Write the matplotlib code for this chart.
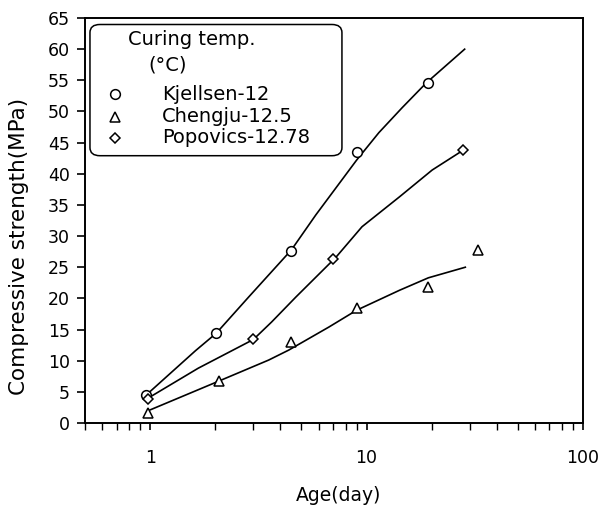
import matplotlib.pyplot as plt
from matplotlib.patches import FancyBboxPatch

plt.rcParams['font.family'] = ['DejaVu Sans']

# measured points (age in days, strength in MPa)
kj_age = [0.96, 2.02, 4.5, 9.0, 19.3]
kj_str = [4.5, 14.5, 27.6, 43.5, 54.6]
ch_age = [0.98, 2.07, 4.5, 9.0, 19.3, 32.6]
ch_str = [1.6, 6.7, 13.0, 18.5, 21.8, 27.8]
po_age = [0.98, 3.0, 7.0, 28.0]
po_str = [3.9, 13.5, 26.3, 43.8]

# fitted curves
kj_fit_age = [0.96, 1.62, 2.02, 2.85, 4.5, 5.83, 9.0, 11.4, 14.6, 18.9, 28.4]
kj_fit_str = [4.5, 11.6, 14.4, 20.2, 27.8, 33.4, 42.2, 46.6, 50.6, 54.6, 60.0]
po_fit_age = [0.98, 1.67, 3.0, 3.64, 4.71, 7.22, 9.53, 14.2, 20.1, 28.0]
po_fit_str = [4.0, 8.8, 13.4, 16.2, 20.2, 26.6, 31.5, 36.3, 40.6, 43.8]
ch_fit_age = [1.0, 2.07, 3.53, 4.37, 6.7, 9.0, 14.2, 19.3, 28.6]
ch_fit_str = [2.1, 6.7, 10.1, 11.7, 15.4, 18.1, 21.3, 23.3, 25.0]

labels = ['Kjellsen-12', 'Chengju-12.5', 'Popovics-12.78']
markers = ['o', '^', 'D']

fig = plt.figure(figsize=(6.01, 5.09), dpi=100)
ax = fig.add_axes([0.1414, 0.169, 0.8286, 0.7956])

ax.plot(kj_fit_age, kj_fit_str, color='black', lw=1.2)
ax.plot(po_fit_age, po_fit_str, color='black', lw=1.2)
ax.plot(ch_fit_age, ch_fit_str, color='black', lw=1.2)

ax.plot(kj_age, kj_str, 'o', mfc='white', mec='black', ms=7, mew=1.1)
ax.plot(ch_age, ch_str, '^', mfc='white', mec='black', ms=6.5, mew=1.1)
ax.plot(po_age, po_str, 'D', mfc='white', mec='black', ms=5, mew=1.1)

ax.set_xscale('log')
ax.set_xlim(0.5, 100)
ax.set_ylim(0, 65)
ax.set_yticks(range(0, 66, 5))
ax.set_xticks([1, 10, 100])
ax.set_xticklabels(['1', '10', '100'])

for s in ax.spines.values():
    s.set_linewidth(1.4)
ax.tick_params(axis='y', which='major', direction='out', length=6, width=1.2,
               pad=5, labelsize=12.5)
ax.tick_params(axis='x', which='major', direction='out', length=5, width=1.2,
               pad=14, labelsize=12.5)
ax.tick_params(axis='x', which='minor', direction='out', length=5, width=1.0)

ax.set_xlabel('Age(day)', fontsize=13.5)
ax.xaxis.set_label_coords(0.51, -0.155)
ax.set_ylabel('Compressive strength(MPa)', fontsize=15.5)
ax.yaxis.set_label_coords(-0.112, 0.435)

# legend box
box = FancyBboxPatch((0.018, 0.668), 0.49, 0.308, transform=ax.transAxes,
                     boxstyle='round,pad=0.008,rounding_size=0.02',
                     fc='white', ec='black', lw=1.1, zorder=5)
ax.add_patch(box)
ax.text(0.086, 0.948, 'Curing temp.', transform=ax.transAxes, fontsize=14,
        va='center', zorder=6)
ax.text(0.127, 0.884, '(°C)', transform=ax.transAxes, fontsize=14,
        va='center', zorder=6)
ys = [0.812, 0.756, 0.704]
sizes = [7, 6.5, 5]
for lab, m, y, ms in zip(labels, markers, ys, sizes):
    ax.plot([0.060], [y], m, transform=ax.transAxes, mfc='white', mec='black',
            ms=ms, mew=1.1, zorder=6, clip_on=False)
    ax.text(0.155, y, lab, transform=ax.transAxes, fontsize=14,
            va='center', zorder=6)

fig.savefig('out.png', dpi=100)
